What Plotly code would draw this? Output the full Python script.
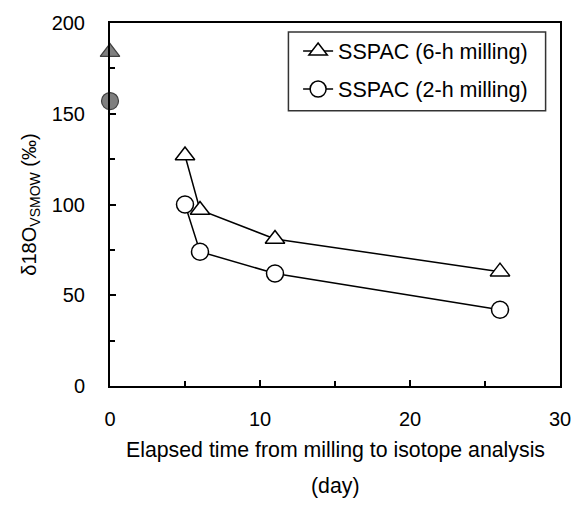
import plotly.graph_objects as go

days = [5, 6, 11, 26]
ssp6 = [127, 97, 81, 63]
ssp2 = [100, 74, 62, 42]
day0 = [0]
ssp6_0 = [184]
ssp2_0 = [157]

FONT = "Liberation Sans, Arial, sans-serif"
FS = 20
FS_TITLE = 21.3
FS_LEG = 21.5

fig = go.Figure()
fig.add_trace(go.Scatter(x=days, y=ssp6, mode="lines+markers", name="SSPAC (6-h milling)",
                         legendgroup="a",
                         line=dict(color="black", width=1.5),
                         marker=dict(symbol="triangle-up", size=17, color="white",
                                     line=dict(color="black", width=1.5))))
fig.add_trace(go.Scatter(x=days, y=ssp2, mode="lines+markers", name="SSPAC (2-h milling)",
                         legendgroup="b",
                         line=dict(color="black", width=1.5),
                         marker=dict(symbol="circle", size=17, color="white",
                                     line=dict(color="black", width=1.5))))
fig.add_trace(go.Scatter(x=day0, y=ssp6_0, mode="markers", showlegend=False,
                         marker=dict(symbol="triangle-up", size=17, color="#7f7f7f",
                                     line=dict(color="#404040", width=1.2))))
fig.add_trace(go.Scatter(x=day0, y=ssp2_0, mode="markers", showlegend=False,
                         marker=dict(symbol="circle", size=17, color="#7f7f7f",
                                     line=dict(color="#404040", width=1.2))))

fig.update_traces(cliponaxis=False)

fig.update_layout(
    width=583, height=507,
    margin=dict(l=110, r=17, t=22, b=121),
    plot_bgcolor="white", paper_bgcolor="white",
    font=dict(family=FONT, size=FS, color="black"),
    showlegend=True,
    legend=dict(x=0.418, y=0.979, xanchor="left", yanchor="top",
                borderwidth=0, bgcolor="rgba(0,0,0,0)",
                font=dict(size=FS_LEG), itemwidth=30, tracegroupgap=7,
                traceorder="grouped"),
    shapes=[dict(type="rect", xref="paper", yref="paper",
                 x0=0.3965, x1=0.968, y0=0.758, y1=0.975,
                 line=dict(color="#333333", width=1.5), fillcolor="white", layer="below")],
    xaxis=dict(range=[0, 30], tickvals=[0, 10, 20, 30], ticks="inside", ticklen=6,
               tickwidth=1.5, tickcolor="black", showline=True, linecolor="black",
               linewidth=2, mirror=True, showgrid=False, zeroline=False,
               minor=dict(tickvals=[5, 15, 25], ticks="inside", ticklen=5, tickwidth=1.5,
                          tickcolor="black"),
               ticklabelstandoff=14,
               tickfont=dict(size=FS)),
    yaxis=dict(range=[0, 200], tickvals=[0, 50, 100, 150, 200], ticks="inside", ticklen=6,
               tickwidth=1.5, tickcolor="black", showline=True, linecolor="black",
               linewidth=2, mirror=True, showgrid=False, zeroline=False,
               minor=dict(tickvals=[25, 75, 125, 175], ticks="inside", ticklen=5,
                          tickwidth=1.5, tickcolor="black"),
               ticklabelstandoff=19,
               title=dict(text="δ18O<sub>VSMOW</sub> (‰)", font=dict(size=FS), standoff=10),
               tickfont=dict(size=FS)),
    annotations=[
        dict(text="Elapsed time from milling to isotope analysis", xref="paper", yref="paper",
             x=0.5, y=-0.175, xanchor="center", yanchor="middle", showarrow=False,
             font=dict(size=FS_TITLE)),
        dict(text="(day)", xref="paper", yref="paper",
             x=0.5, y=-0.275, xanchor="center", yanchor="middle", showarrow=False,
             font=dict(size=FS_TITLE)),
    ],
)

fig.write_html("out.html")
